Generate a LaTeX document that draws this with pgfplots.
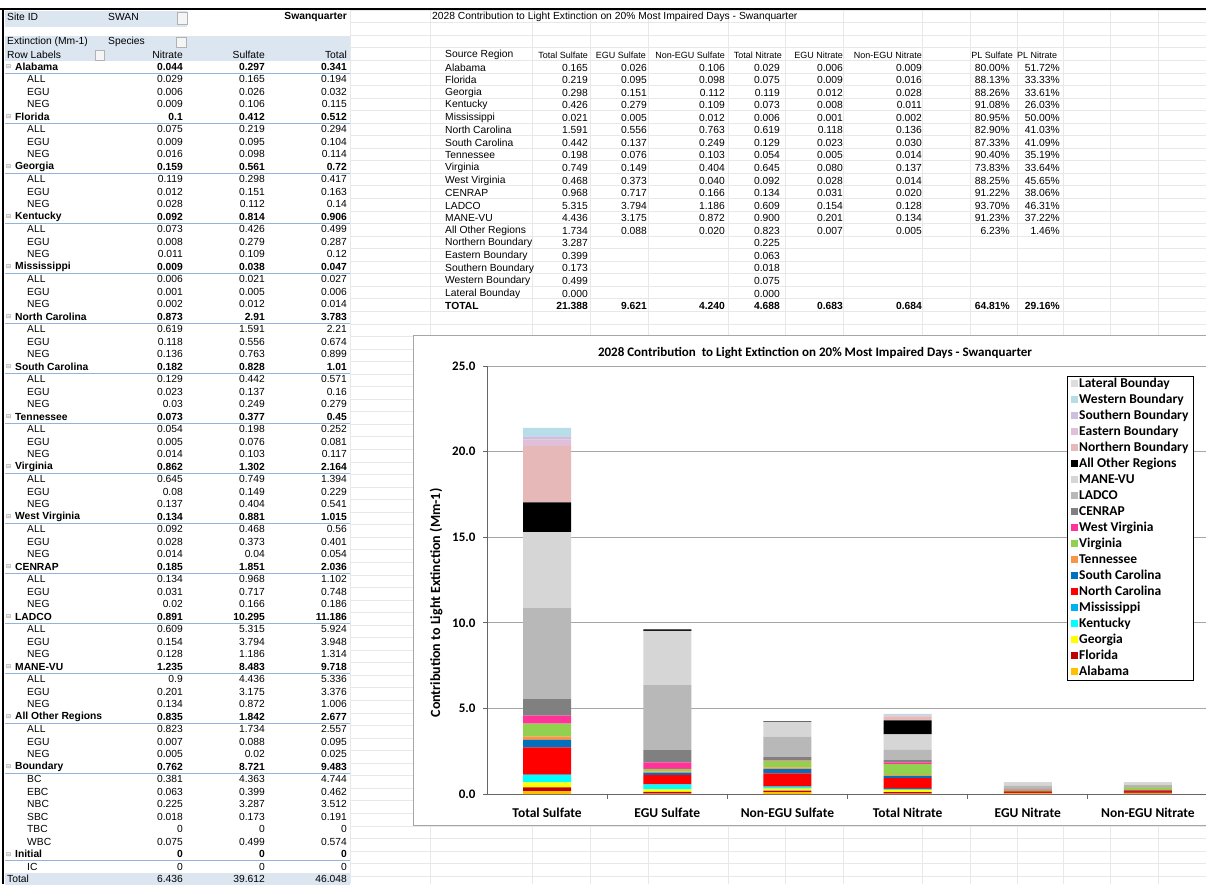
\documentclass[border=0pt]{standalone}
\usepackage{pgfplots}
\pgfplotsset{compat=1.18}
\usepackage{pgfplotstable}
\usepackage{fontspec}
\setmainfont{Carlito}
\newfontfamily\xl{Liberation Sans}
\newfontfamily\symfont{DejaVu Sans}

\definecolor{cAL}{HTML}{FFC000}
\definecolor{cFL}{HTML}{C00000}
\definecolor{cGA}{HTML}{FFFF00}
\definecolor{cKY}{HTML}{00FFFF}
\definecolor{cMS}{HTML}{00B0F0}
\definecolor{cNC}{HTML}{FF0000}
\definecolor{cSC}{HTML}{0070C0}
\definecolor{cTN}{HTML}{F79646}
\definecolor{cVA}{HTML}{92D050}
\definecolor{cWV}{HTML}{FF3399}
\definecolor{cCEN}{HTML}{808080}
\definecolor{cLAD}{HTML}{B8B8B8}
\definecolor{cMAN}{HTML}{D6D6D6}
\definecolor{cAOR}{HTML}{000000}
\definecolor{cNB}{HTML}{E6B9B8}
\definecolor{cEB}{HTML}{E0C0D8}
\definecolor{cSB}{HTML}{CCC0E0}
\definecolor{cWB}{HTML}{B7DDE8}
\definecolor{cLB}{HTML}{DDDDDD}
\definecolor{hdr}{HTML}{DCE6F1}
\definecolor{tabline}{HTML}{95B3D7}

% stacked contributions (Mm-1), columns = source regions
\pgfplotstableread{
x AL FL GA KY MS NC SC TN VA WV CEN LAD MAN AOR NB EB SB WB LB
0 0.165 0.219 0.298 0.426 0.021 1.591 0.442 0.198 0.749 0.468 0.968 5.315 4.436 1.734 3.287 0.399 0.173 0.499 0
1 0.026 0.095 0.151 0.279 0.005 0.556 0.137 0.076 0.149 0.373 0.717 3.794 3.175 0.088 0 0 0 0 0
2 0.106 0.098 0.112 0.109 0.012 0.763 0.249 0.103 0.404 0.040 0.166 1.186 0.872 0.020 0 0 0 0 0
3 0.029 0.075 0.119 0.073 0.006 0.619 0.129 0.054 0.645 0.092 0.134 0.609 0.900 0.823 0.225 0.063 0.018 0.075 0
4 0.006 0.009 0.012 0.008 0.001 0.118 0.023 0.005 0.080 0.028 0.031 0.154 0.201 0.007 0 0 0 0 0
5 0.009 0.016 0.028 0.011 0.002 0.136 0.030 0.014 0.137 0.014 0.020 0.128 0.134 0.005 0 0 0 0 0
}\chartdata

\def\tabsize{\fontsize{10.3}{11}\selectfont}
\tikzset{tx/.style={inner sep=0pt, font=\xl\tabsize},
  th/.style={inner sep=0pt, font=\xl\fontsize{9}{10}\selectfont}}

\begin{document}
\begin{tikzpicture}[x=1pt, y=-1pt]
\path[use as bounding box] (0,0) rectangle (1206,884);

% sheet grid
\foreach \k in {0,...,69} {
  \pgfmathsetmacro\gy{10+12.55*\k}
  \draw[gray!18, line width=0.5pt] (350,\gy) -- (1206,\gy);
}
\foreach \gx in {350,430,532,590,648,728,785,843,922,970,1017,1063,1110,1158} {
  \draw[gray!18, line width=0.5pt] (\gx,10) -- (\gx,884);
}
\draw[black, line width=2pt] (0,9) -- (1206,9);
\draw[black, line width=2pt] (3,9) -- (3,884);

% ---- pivot table (left)
\fill[hdr] (5,11) rectangle (187,27);
\fill[hdr] (5,36) rectangle (350,61);
\draw[gray!60, fill=gray!8] (177,12) rectangle (187,24);
\draw[gray!60, fill=gray!8] (176,37) rectangle (186,47);
\draw[gray!60, fill=gray!8] (95,50) rectangle (104,60);
\node[tx, anchor=west] at (7,17) {Site ID};
\node[tx, anchor=west] at (108,17) {SWAN};
\node[tx, anchor=east, font=\xl\bfseries\tabsize] at (347,17) {Swanquarter};
\node[tx, anchor=west] at (7,42) {Extinction (Mm-1)};
\node[tx, anchor=west] at (108,42) {Species};
\node[tx, anchor=west] at (7,55) {Row Labels};
\node[tx, anchor=east] at (183,55) {Nitrate};
\node[tx, anchor=east] at (265,55) {Sulfate};
\node[tx, anchor=east] at (347,55) {Total};

\foreach[count=\i from 0] \gk/\glab/\gn/\gs/\gt in {
g/Alabama/0.044/0.297/0.341, s/ALL/0.029/0.165/0.194, s/EGU/0.006/0.026/0.032, s/NEG/0.009/0.106/0.115,
g/Florida/0.1/0.412/0.512, s/ALL/0.075/0.219/0.294, s/EGU/0.009/0.095/0.104, s/NEG/0.016/0.098/0.114,
g/Georgia/0.159/0.561/0.72, s/ALL/0.119/0.298/0.417, s/EGU/0.012/0.151/0.163, s/NEG/0.028/0.112/0.14,
g/Kentucky/0.092/0.814/0.906, s/ALL/0.073/0.426/0.499, s/EGU/0.008/0.279/0.287, s/NEG/0.011/0.109/0.12,
g/Mississippi/0.009/0.038/0.047, s/ALL/0.006/0.021/0.027, s/EGU/0.001/0.005/0.006, s/NEG/0.002/0.012/0.014,
g/North Carolina/0.873/2.91/3.783, s/ALL/0.619/1.591/2.21, s/EGU/0.118/0.556/0.674, s/NEG/0.136/0.763/0.899,
g/South Carolina/0.182/0.828/1.01, s/ALL/0.129/0.442/0.571, s/EGU/0.023/0.137/0.16, s/NEG/0.03/0.249/0.279,
g/Tennessee/0.073/0.377/0.45, s/ALL/0.054/0.198/0.252, s/EGU/0.005/0.076/0.081, s/NEG/0.014/0.103/0.117,
g/Virginia/0.862/1.302/2.164, s/ALL/0.645/0.749/1.394, s/EGU/0.08/0.149/0.229, s/NEG/0.137/0.404/0.541,
g/West Virginia/0.134/0.881/1.015, s/ALL/0.092/0.468/0.56, s/EGU/0.028/0.373/0.401, s/NEG/0.014/0.04/0.054,
g/CENRAP/0.185/1.851/2.036, s/ALL/0.134/0.968/1.102, s/EGU/0.031/0.717/0.748, s/NEG/0.02/0.166/0.186,
g/LADCO/0.891/10.295/11.186, s/ALL/0.609/5.315/5.924, s/EGU/0.154/3.794/3.948, s/NEG/0.128/1.186/1.314,
g/MANE-VU/1.235/8.483/9.718, s/ALL/0.9/4.436/5.336, s/EGU/0.201/3.175/3.376, s/NEG/0.134/0.872/1.006,
g/All Other Regions/0.835/1.842/2.677, s/ALL/0.823/1.734/2.557, s/EGU/0.007/0.088/0.095, s/NEG/0.005/0.02/0.025,
g/Boundary/0.762/8.721/9.483, s/BC/0.381/4.363/4.744, s/EBC/0.063/0.399/0.462, s/NBC/0.225/3.287/3.512,
s/SBC/0.018/0.173/0.191, s/TBC/0/0/0, s/WBC/0.075/0.499/0.574,
g/Initial/0/0/0, s/IC/0/0/0} {
  \pgfmathsetmacro\yy{66.7+12.5*\i}
  \if\gk g
    \def\fw{\bfseries}\def\lx{15}
    \draw[tabline, line width=0.6pt] (5,\yy+6.3) -- (350,\yy+6.3);
    \node[tx, anchor=west, text=gray, font=\symfont\fontsize{6}{6}\selectfont] at (6,\yy) {⊟};
  \else
    \def\fw{}\def\lx{27}
  \fi
  \node[tx, anchor=west, font=\xl\fw\tabsize] at (\lx,\yy) {\glab};
  \node[tx, anchor=east, font=\xl\fw\tabsize] at (183,\yy) {\gn};
  \node[tx, anchor=east, font=\xl\fw\tabsize] at (265,\yy) {\gs};
  \node[tx, anchor=east, font=\xl\fw\tabsize] at (347,\yy) {\gt};
}
\fill[hdr] (5,873) rectangle (350,886);
\node[tx, anchor=west] at (7,879) {Total};
\node[tx, anchor=east] at (183,879) {6.436};
\node[tx, anchor=east] at (265,879) {39.612};
\node[tx, anchor=east] at (347,879) {46.048};

% ---- summary table (right)
\node[tx, anchor=west] at (432,17) {2028 Contribution to Light Extinction on 20\% Most Impaired Days - Swanquarter};
\node[tx, anchor=west] at (445,55) {Source Region};
\node[th, anchor=east] at (588,55) {Total Sulfate};
\node[th, anchor=east] at (646,55) {EGU Sulfate};
\node[th, anchor=east] at (725,55) {Non-EGU Sulfate};
\node[th, anchor=east] at (782,55) {Total Nitrate};
\node[th, anchor=east] at (843,55) {EGU Nitrate};
\node[th, anchor=east] at (922,55) {Non-EGU Nitrate};
\node[th, anchor=east] at (1013,55) {PL Sulfate};
\node[th, anchor=west] at (1017,55) {PL Nitrate};

\foreach[count=\j] \ra/\rb/\rc/\rd/\re/\rf/\rg/\rh/\ri in {
Alabama/0.165/0.026/0.106/0.029/0.006/0.009/80.00\%/51.72\%,
Florida/0.219/0.095/0.098/0.075/0.009/0.016/88.13\%/33.33\%,
Georgia/0.298/0.151/0.112/0.119/0.012/0.028/88.26\%/33.61\%,
Kentucky/0.426/0.279/0.109/0.073/0.008/0.011/91.08\%/26.03\%,
Mississippi/0.021/0.005/0.012/0.006/0.001/0.002/80.95\%/50.00\%,
North Carolina/1.591/0.556/0.763/0.619/0.118/0.136/82.90\%/41.03\%,
South Carolina/0.442/0.137/0.249/0.129/0.023/0.030/87.33\%/41.09\%,
Tennessee/0.198/0.076/0.103/0.054/0.005/0.014/90.40\%/35.19\%,
Virginia/0.749/0.149/0.404/0.645/0.080/0.137/73.83\%/33.64\%,
West Virginia/0.468/0.373/0.040/0.092/0.028/0.014/88.25\%/45.65\%,
CENRAP/0.968/0.717/0.166/0.134/0.031/0.020/91.22\%/38.06\%,
LADCO/5.315/3.794/1.186/0.609/0.154/0.128/93.70\%/46.31\%,
MANE-VU/4.436/3.175/0.872/0.900/0.201/0.134/91.23\%/37.22\%,
All Other Regions/1.734/0.088/0.020/0.823/0.007/0.005/6.23\%/1.46\%,
Northern Boundary/3.287///0.225////,
Eastern Boundary/0.399///0.063////,
Southern Boundary/0.173///0.018////,
Western Boundary/0.499///0.075////,
Lateral Bounday/0.000///0.000////} {
  \pgfmathsetmacro\yy{55+12.55*\j}
  \node[tx, anchor=west] at (445,\yy) {\ra};
  \node[tx, anchor=east] at (588,\yy) {\rb};
  \node[tx, anchor=east] at (647,\yy) {\rc};
  \node[tx, anchor=east] at (725,\yy) {\rd};
  \node[tx, anchor=east] at (780,\yy) {\re};
  \node[tx, anchor=east] at (843,\yy) {\rf};
  \node[tx, anchor=east] at (922,\yy) {\rg};
  \node[tx, anchor=east] at (1010,\yy) {\rh};
  \node[tx, anchor=east] at (1060,\yy) {\ri};
}
\begin{scope}[every node/.style={tx, font=\xl\bfseries\tabsize}]
\node[anchor=west] at (445,306) {TOTAL};
\node[anchor=east] at (588,306) {21.388};
\node[anchor=east] at (647,306) {9.621};
\node[anchor=east] at (725,306) {4.240};
\node[anchor=east] at (780,306) {4.688};
\node[anchor=east] at (843,306) {0.683};
\node[anchor=east] at (922,306) {0.684};
\node[anchor=east] at (1010,306) {64.81\%};
\node[anchor=east] at (1060,306) {29.16\%};
\end{scope}

% ---- chart
\draw[gray!70, fill=white, line width=0.8pt] (413,335) rectangle (1212,825);
\node[font=\bfseries\fontsize{13}{13}\selectfont] at (815,353)
  {2028 Contribution\ \ to Light Extinction on 20\% Most Impaired Days - Swanquarter};
\node[rotate=90, font=\bfseries\fontsize{14}{14}\selectfont] at (436,603)
  {Contribution to Light Extinction (Mm-1)};

\begin{axis}[
  at={(487pt,-794pt)}, anchor=south west,
  scale only axis, width=721pt, height=428pt,
  xmin=-0.5, xmax=5.5, ymin=0, ymax=25,
  ybar stacked, bar width=48pt,
  xtick={0,...,5},
  xticklabels={Total Sulfate, EGU Sulfate, Non-EGU Sulfate, Total Nitrate, EGU Nitrate, Non-EGU Nitrate},
  minor xtick={0.5,1.5,2.5,3.5,4.5},
  ytick={0,5,...,25},
  axis x line*=bottom, axis y line*=left,
  axis line style={-, gray!80!black, line width=0.8pt},
  tick align=outside,
  major tick length=4pt, minor tick length=5pt,
  major x tick style={draw=none},
  tick style={gray!80!black, line width=0.8pt},
  ymajorgrids, major grid style={gray!70, line width=0.8pt},
  /pgf/number format/assume math mode=true,
  y tick label style={/pgf/number format/.cd, fixed, fixed zerofill, precision=1, /tikz/.cd,
    font=\bfseries\fontsize{13}{13}\selectfont, xshift=-4pt},
  x tick label style={font=\bfseries\fontsize{13.5}{13.5}\selectfont, yshift=-6pt},
  reverse legend,
  legend image code/.code={\fill[#1] (0pt,-3pt) rectangle (7pt,4pt);},
  legend style={at={(0.805,0.977)}, anchor=north west, draw=black, line width=0.6pt,
    fill=white, font=\bfseries\fontsize{13.5}{13.5}\selectfont, row sep=0pt,
    inner xsep=3pt, inner ysep=0pt,
    nodes={inner sep=1.5pt, text height=9.8pt, text depth=3.2pt},
    cells={anchor=west}},
]
\addplot[fill=cAL, draw=none] table[x=x, y=AL] {\chartdata};
\addplot[fill=cFL, draw=none] table[x=x, y=FL] {\chartdata};
\addplot[fill=cGA, draw=none] table[x=x, y=GA] {\chartdata};
\addplot[fill=cKY, draw=none] table[x=x, y=KY] {\chartdata};
\addplot[fill=cMS, draw=none] table[x=x, y=MS] {\chartdata};
\addplot[fill=cNC, draw=none] table[x=x, y=NC] {\chartdata};
\addplot[fill=cSC, draw=none] table[x=x, y=SC] {\chartdata};
\addplot[fill=cTN, draw=none] table[x=x, y=TN] {\chartdata};
\addplot[fill=cVA, draw=none] table[x=x, y=VA] {\chartdata};
\addplot[fill=cWV, draw=none] table[x=x, y=WV] {\chartdata};
\addplot[fill=cCEN, draw=none] table[x=x, y=CEN] {\chartdata};
\addplot[fill=cLAD, draw=none] table[x=x, y=LAD] {\chartdata};
\addplot[fill=cMAN, draw=none] table[x=x, y=MAN] {\chartdata};
\addplot[fill=cAOR, draw=none] table[x=x, y=AOR] {\chartdata};
\addplot[fill=cNB, draw=none] table[x=x, y=NB] {\chartdata};
\addplot[fill=cEB, draw=none] table[x=x, y=EB] {\chartdata};
\addplot[fill=cSB, draw=none] table[x=x, y=SB] {\chartdata};
\addplot[fill=cWB, draw=none] table[x=x, y=WB] {\chartdata};
\addplot[fill=cLB, draw=none] table[x=x, y=LB] {\chartdata};
\legend{Alabama, Florida, Georgia, Kentucky, Mississippi, North Carolina, South Carolina,
  Tennessee, Virginia, West Virginia, CENRAP, LADCO, MANE-VU, All Other Regions,
  Northern Boundary, Eastern Boundary, Southern Boundary, Western Boundary, Lateral Bounday}
\end{axis}
\end{tikzpicture}
\end{document}
